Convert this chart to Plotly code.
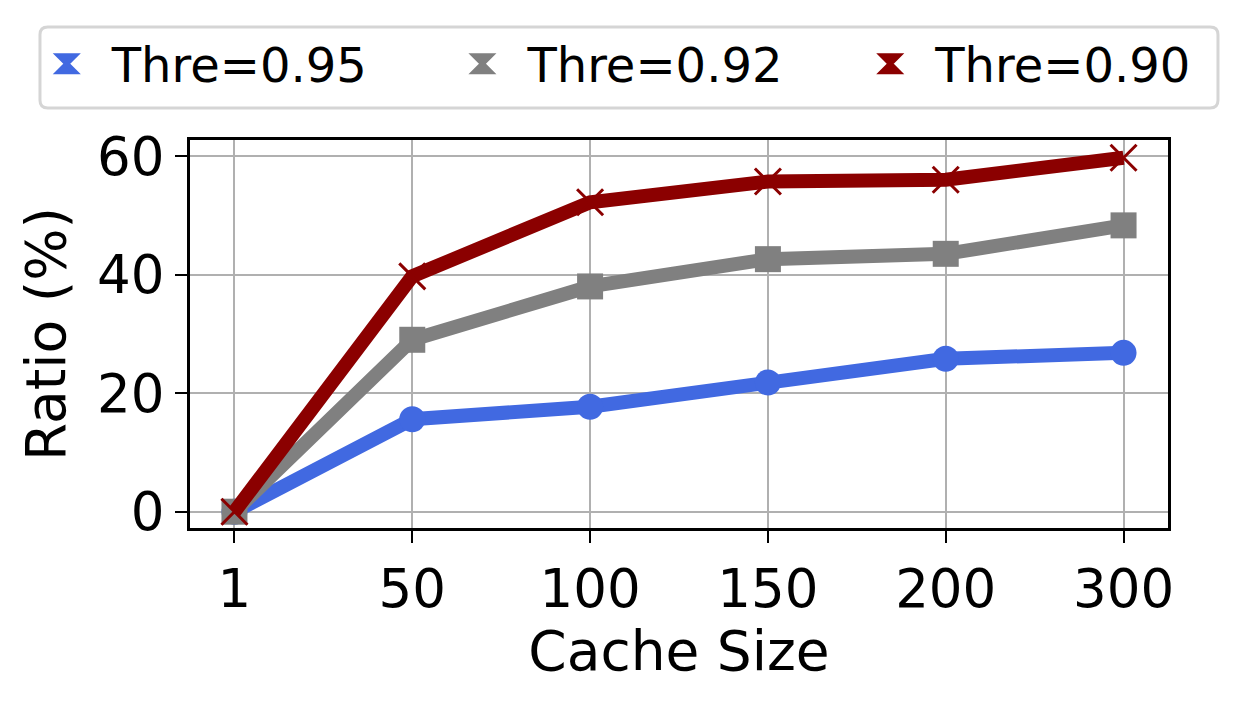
import plotly.graph_objects as go

# cache sizes on the x axis (categorical, equally spaced)
cache_sizes = ["1", "50", "100", "150", "200", "300"]

# hit ratio (%) per threshold
ratio_095 = [0.0, 15.6, 17.7, 21.8, 25.8, 26.8]
ratio_092 = [0.0, 29.0, 38.0, 42.6, 43.5, 48.3]
ratio_090 = [0.0, 39.7, 52.2, 55.7, 56.0, 59.7]

series_names = ["Thre=0.95", "Thre=0.92", "Thre=0.90"]
series_colors = ["#4169E1", "#808080", "#8B0000"]
series_symbols = ["circle", "square", "x-thin"]

FONT = "DejaVu Sans"

# one small legend per series so the entries can be spread like the original
legend_ids = ["legend", "legend2", "legend3"]
legend_x = [-0.172, 0.253, 0.670]

fig = go.Figure()

for name, vals, color, symbol in zip(series_names, [ratio_095, ratio_092, ratio_090],
                                     series_colors, series_symbols):
    fig.add_trace(go.Scatter(
        x=cache_sizes,
        y=vals,
        mode="lines+markers",
        name=name,
        showlegend=False,
        line=dict(color=color, width=14),
        marker=dict(symbol=symbol, size=26, color=color,
                    line=dict(color=color, width=3 if symbol == "x-thin" else 0)),
    ))

# legend entries (icon only, roughly like the errorbar handles in the original)
for name, color, lid in zip(series_names, series_colors, legend_ids):
    fig.add_trace(go.Scatter(
        x=[None],
        y=[None],
        mode="markers",
        name=name,
        legend=lid,
        marker=dict(symbol="hourglass", size=16, color=color,
                    line=dict(color=color, width=5)),
    ))

legend_style = dict(
    orientation="h",
    xanchor="left",
    y=1.196,
    yanchor="middle",
    bgcolor="rgba(0,0,0,0)",
    borderwidth=0,
    font=dict(family=FONT, size=48, color="black"),
    itemwidth=80,
)
legends = {lid: dict(legend_style, x=lx) for lid, lx in zip(legend_ids, legend_x)}

# rounded frame around the three legend entries
x0, x1, y0, y1, rx, ry = -0.1534, 1.0511, 1.0825, 1.2912, 0.008, 0.02
frame_path = (
    f"M {x0 + rx},{y0} L {x1 - rx},{y0} Q {x1},{y0} {x1},{y0 + ry} "
    f"L {x1},{y1 - ry} Q {x1},{y1} {x1 - rx},{y1} "
    f"L {x0 + rx},{y1} Q {x0},{y1} {x0},{y1 - ry} "
    f"L {x0},{y0 + ry} Q {x0},{y0} {x0 + rx},{y0} Z"
)

fig.update_layout(
    width=1246,
    height=702,
    margin=dict(l=182, r=86, t=132, b=182, autoexpand=False),
    paper_bgcolor="white",
    plot_bgcolor="white",
    font=dict(family=FONT, size=53, color="black"),
    shapes=[dict(type="path", path=frame_path, xref="paper", yref="paper",
                 fillcolor="white", line=dict(color="#d5d5d5", width=3), layer="below")],
    xaxis=dict(
        type="category",
        range=[-0.25, 5.25],
        title=dict(text="Cache Size", standoff=10, font=dict(size=55)),
        showgrid=True,
        gridcolor="#b0b0b0",
        gridwidth=2,
        showline=True,
        linecolor="black",
        linewidth=3,
        mirror=True,
        ticks="outside",
        ticklen=12,
        tickwidth=2,
        tickcolor="black",
        zeroline=False,
    ),
    yaxis=dict(
        range=[-2.75, 62.7],
        tickvals=[0, 20, 40, 60],
        title=dict(text="Ratio (%)", standoff=14, font=dict(size=55)),
        showgrid=True,
        gridcolor="#b0b0b0",
        gridwidth=2,
        showline=True,
        linecolor="black",
        linewidth=3,
        mirror=True,
        ticks="outside",
        ticklen=12,
        tickwidth=2,
        tickcolor="black",
        zeroline=False,
    ),
    **legends,
)

fig.write_html("out.html")
